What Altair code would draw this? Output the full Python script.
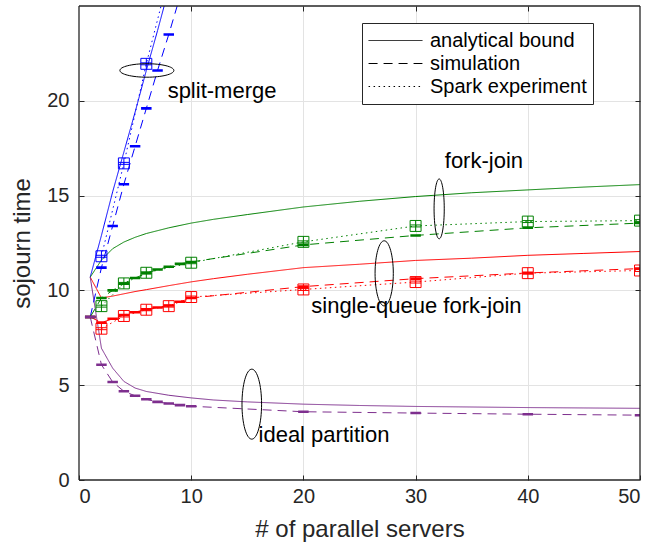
import altair as alt
import pandas as pd

# ---------------- data ----------------
models = ["split-merge", "fork-join", "single-queue fork-join", "ideal partition"]
model_colors = ["#0000ff", "#008000", "#ff0000", "#7e2f8e"]
kinds = ["analytical bound", "simulation", "Spark experiment"]

# analytical bounds
x_ana_sm = [1, 2, 3, 4, 5, 6, 7, 8]
sm_ana = [10.7, 12.9, 15.2, 17.3, 19.4, 21.6, 23.7, 25.9]
x_ana = [1, 2, 3, 4, 5, 6, 8, 10, 12, 15, 20, 25, 30, 35, 40, 45, 50]
fj_ana = [10.7, 11.6, 12.2, 12.55, 12.8, 13.0, 13.3, 13.55, 13.75, 14.0, 14.4, 14.7, 14.95, 15.15, 15.3, 15.45, 15.58]
sq_ana = [10.7, 9.6, 9.7, 9.82, 9.94, 10.04, 10.25, 10.45, 10.62, 10.85, 11.2, 11.38, 11.58, 11.7, 11.85, 11.95, 12.05]
ip_ana = [10.7, 6.95, 5.9, 5.2, 4.85, 4.67, 4.47, 4.33, 4.22, 4.12, 4.0, 3.93, 3.88, 3.85, 3.82, 3.8, 3.78]

# simulation
x_sim_sm = [1, 2, 3, 4, 5, 6, 7, 8, 9]
sm_sim = [8.6, 11.2, 13.4, 15.6, 17.6, 19.6, 21.6, 23.5, 25.5]
x_sim = [1, 2, 3, 4, 5, 6, 7, 8, 9, 10, 20, 30, 40, 50]
fj_sim = [8.6, 9.6, 10.0, 10.35, 10.65, 10.9, 11.1, 11.25, 11.4, 11.5, 12.4, 12.9, 13.3, 13.55]
sq_sim = [8.6, 8.3, 8.5, 8.7, 8.85, 9.0, 9.1, 9.2, 9.4, 9.6, 10.2, 10.62, 10.92, 11.15]
ip_sim = [8.6, 6.08, 5.17, 4.68, 4.44, 4.26, 4.12, 4.03, 3.95, 3.89, 3.6, 3.53, 3.47, 3.42]

# Spark experiment
x_spark_sm = [2, 4, 6, 8]
sm_spark = [11.8, 16.7, 21.95, 26.6]
x_spark_fj = [2, 4, 6, 10, 20, 30, 40, 50]
fj_spark = [9.17, 10.37, 10.93, 11.46, 12.56, 13.4, 13.63, 13.68]
x_spark_sq = [2, 4, 6, 8, 10, 20, 30, 40, 50]
sq_spark = [7.98, 8.65, 8.98, 9.17, 9.65, 10.05, 10.44, 10.91, 11.05]

# annotations
ann_labels = ["split-merge", "fork-join", "single-queue fork-join", "ideal partition"]
ann_x = [7.9, 32.6, 20.7, 16.0]
ann_y = [20.5, 16.8, 9.2, 2.35]
ell_x = [6.05, 32.1, 27.2, 15.4]
ell_y = [21.6, 14.3, 10.9, 4.0]

x_domain = [0, 50]
y_domain = [0, 25]
x_ticks = [0, 10, 20, 30, 40, 50]
y_ticks = [0, 5, 10, 15, 20]
x_grid = [10, 20, 30, 40]
y_grid = [5, 10, 15, 20]

# ---------------- tables ----------------
series = [
    ("split-merge", "analytical bound", x_ana_sm, sm_ana),
    ("fork-join", "analytical bound", x_ana, fj_ana),
    ("single-queue fork-join", "analytical bound", x_ana, sq_ana),
    ("ideal partition", "analytical bound", x_ana, ip_ana),
    ("split-merge", "simulation", x_sim_sm, sm_sim),
    ("fork-join", "simulation", x_sim, fj_sim),
    ("single-queue fork-join", "simulation", x_sim, sq_sim),
    ("ideal partition", "simulation", x_sim, ip_sim),
    ("split-merge", "Spark experiment", x_spark_sm, sm_spark),
    ("fork-join", "Spark experiment", x_spark_fj, fj_spark),
    ("single-queue fork-join", "Spark experiment", x_spark_sq, sq_spark),
]
rows = []
for m, k, xs_, ys_ in series:
    for xv, yv in zip(xs_, ys_):
        rows.append({"model": m, "kind": k, "n": xv, "t": yv})
df = pd.DataFrame(rows)
ann_df = pd.DataFrame({"label": ann_labels, "x": ann_x, "y": ann_y})
ell_df = pd.DataFrame({"label": ann_labels, "x": ell_x, "y": ell_y})
x0, x1 = x_domain
y0, y1 = y_domain
edges_df = pd.DataFrame({
    "ex": [x0, x0, x0, x1], "ex2": [x1, x1, x0, x1],
    "ey": [y0, y1, y0, y0], "ey2": [y0, y1, y1, y1],
})


def ellipse_path(rx, ry):
    k = 0.5523
    return (f"M{rx},0 C{rx},{k*ry} {k*rx},{ry} 0,{ry} "
            f"C{-k*rx},{ry} {-rx},{k*ry} {-rx},0 "
            f"C{-rx},{-k*ry} {-k*rx},{-ry} 0,{-ry} "
            f"C{k*rx},{-ry} {rx},{-k*ry} {rx},0 Z")


FONT = "Liberation Sans"
TXT = "#262626"
GRID = "#e3e3e3"
xscale = alt.Scale(domain=x_domain, nice=False)
yscale = alt.Scale(domain=y_domain, nice=False)

# main axes: labels + inward ticks (negative offset), no grid
x_main = alt.X("n:Q", scale=xscale, axis=alt.Axis(
    values=x_ticks, title="# of parallel servers", format="d", grid=False,
    ticks=True, tickSize=5, offset=-5, tickColor=TXT, labelPadding=6, titlePadding=11))
y_main = alt.Y("t:Q", scale=yscale, axis=alt.Axis(
    values=y_ticks, title="sojourn time", format="d", grid=False,
    ticks=True, tickSize=5, offset=-5, tickColor=TXT, labelPadding=10, titlePadding=12))
# opposite-side axes: inward ticks + interior grid lines
x_top = alt.X("n:Q", scale=xscale, axis=alt.Axis(
    orient="top", values=x_grid, title=None, labels=False, grid=True, gridColor=GRID,
    ticks=True, tickSize=5, offset=-5, tickColor=TXT))
y_right = alt.Y("t:Q", scale=yscale, axis=alt.Axis(
    orient="right", values=y_grid, title=None, labels=False, grid=True, gridColor=GRID,
    ticks=True, tickSize=5, offset=-5, tickColor=TXT))

col = alt.Color("model:N", scale=alt.Scale(domain=models, range=model_colors), legend=None)

lines = alt.Chart(df).mark_line(clip=True, strokeWidth=1).encode(
    x=x_main, y=y_main, color=col,
    strokeDash=alt.StrokeDash(
        "kind:N",
        scale=alt.Scale(domain=kinds, range=[[1, 0], [9, 6], [1.5, 3.5]]),
        legend=alt.Legend(
            title=None, orient="none", legendX=283, legendY=17,
            symbolType="stroke", symbolSize=2900, symbolStrokeColor="black",
            symbolStrokeWidth=1, labelFontSize=20, labelFont=FONT, labelColor="black",
            strokeColor=TXT, fillColor="white", padding=6, rowPadding=0,
            clipHeight=23, labelOffset=7, labelLimit=400, symbolOffset=0,
        ),
    ),
    detail="model:N",
)

sim_glyph = "M-1,-0.12L1,-0.12M-1,0.12L1,0.12M0,-0.12L0,0.12"
sim_pts = alt.Chart(df[df.kind == "simulation"]).mark_point(
    shape=sim_glyph, size=110, filled=False, strokeWidth=1.3, clip=True, opacity=1
).encode(x=x_top, y=y_right, color=col)

spark_glyph = "M-1,-1L1,-1L1,1L-1,1Z M-1,-0.18L1,-0.18 M-1,0.18L1,0.18 M0,-1L0,1"
spark_pts = alt.Chart(df[df.kind == "Spark experiment"]).mark_point(
    shape=spark_glyph, size=120, filled=False, strokeWidth=1, clip=True, opacity=1
).encode(x=alt.X("n:Q", axis=None), y=alt.Y("t:Q", axis=None), color=col)

texts = alt.Chart(ann_df).mark_text(
    align="left", baseline="middle", fontSize=22, font=FONT, color="black"
).encode(x=alt.X("x:Q", axis=None), y=alt.Y("y:Q", axis=None), text="label:N")

ell_shape = alt.Chart(ell_df).mark_point(filled=False, color="black", strokeWidth=1, opacity=1).encode(
    x=alt.X("x:Q", axis=None), y=alt.Y("y:Q", axis=None),
    shape=alt.Shape("label:N", scale=alt.Scale(
        domain=ann_labels,
        range=[ellipse_path(1, 0.25), ellipse_path(0.17, 1), ellipse_path(0.28, 1), ellipse_path(0.28, 1)]),
        legend=None),
    size=alt.Size("label:N", scale=alt.Scale(domain=ann_labels, range=[2916, 4900, 2116, 2116]),
                  legend=None),
)

frame = alt.Chart(edges_df).mark_rule(color=TXT, strokeWidth=1.3).encode(
    x=alt.X("ex:Q", axis=None), x2="ex2:Q",
    y=alt.Y("ey:Q", axis=None), y2="ey2:Q",
)

chart = alt.layer(lines, sim_pts, spark_pts, ell_shape, texts, frame).resolve_axis(
    x="independent", y="independent"
).properties(
    width=657, height=547,
    autosize=alt.AutoSizeParams(type="fit", contains="padding"),
    padding={"left": 10, "top": 5, "right": 16, "bottom": 6},
    background="white",
).configure_view(
    stroke=None
).configure_axis(
    domain=False,
    labelFont=FONT, titleFont=FONT, labelFontSize=20, titleFontSize=24,
    labelColor=TXT, titleColor=TXT, titleFontWeight="normal",
)

chart.save("out.html", embed_options={"renderer": "svg", "actions": False})
